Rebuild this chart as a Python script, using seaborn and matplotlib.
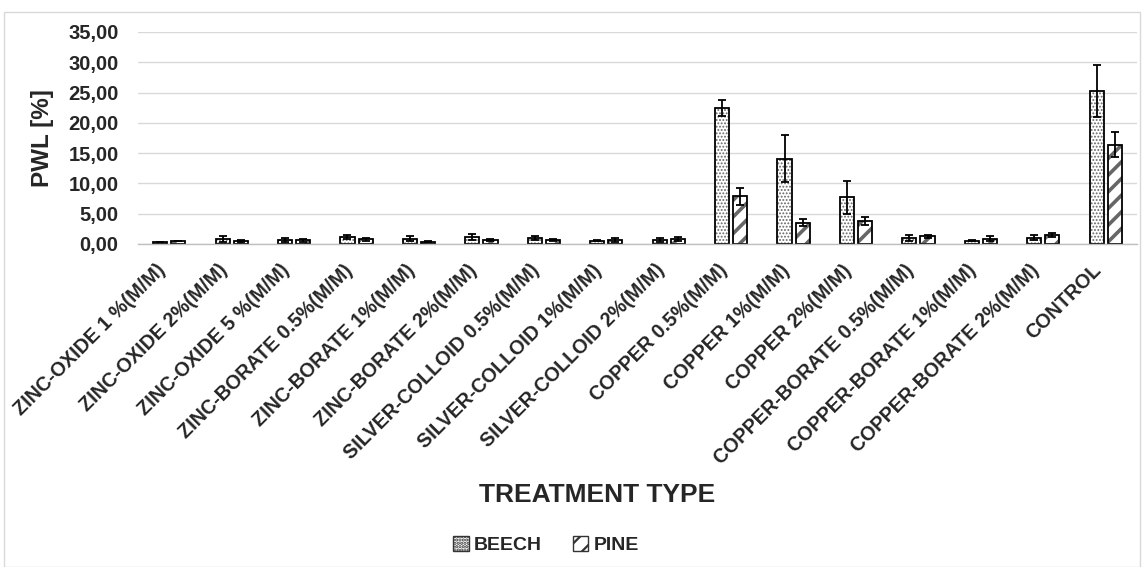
import numpy as np
import pandas as pd
import matplotlib
matplotlib.use("Agg")
import matplotlib.pyplot as plt
import matplotlib.transforms as mtransforms
from matplotlib.patches import Patch, Rectangle
from matplotlib.ticker import FuncFormatter, MultipleLocator
import seaborn as sns

# Treatments along the x axis
treatments = [
    "ZINC-OXIDE 1 %(M/M)", "ZINC-OXIDE 2%(M/M)", "ZINC-OXIDE 5 %(M/M)",
    "ZINC-BORATE 0.5%(M/M)", "ZINC-BORATE 1%(M/M)", "ZINC-BORATE 2%(M/M)",
    "SILVER-COLLOID 0.5%(M/M)", "SILVER-COLLOID 1%(M/M)", "SILVER-COLLOID 2%(M/M)",
    "COPPER 0.5%(M/M)", "COPPER 1%(M/M)", "COPPER 2%(M/M)",
    "COPPER-BORATE 0.5%(M/M)", "COPPER-BORATE 1%(M/M)", "COPPER-BORATE 2%(M/M)",
    "CONTROL",
]

# Percentage weight loss (mean) and standard deviation for each wood species
beech_mean = [0.30, 0.85, 0.65, 1.15, 0.90, 1.20, 1.00, 0.55, 0.70, 22.50, 14.10, 7.70, 0.95, 0.55, 1.05, 25.20]
beech_sd = [0.05, 0.50, 0.40, 0.30, 0.40, 0.50, 0.40, 0.10, 0.30, 1.30, 3.90, 2.70, 0.50, 0.10, 0.45, 4.30]
pine_mean = [0.50, 0.50, 0.60, 0.75, 0.40, 0.70, 0.70, 0.70, 0.85, 7.90, 3.50, 3.80, 1.25, 0.90, 1.45, 16.40]
pine_sd = [0.05, 0.10, 0.20, 0.30, 0.10, 0.20, 0.20, 0.30, 0.30, 1.40, 0.60, 0.60, 0.25, 0.40, 0.30, 2.10]

species = ["BEECH", "PINE"]
hatches = {"BEECH": ".....", "PINE": "//"}
hatch_lw = {"BEECH": 0.9, "PINE": 2.6}
hatch_col = "#666666"

df = pd.DataFrame({
    "treatment": treatments * 2,
    "species": ["BEECH"] * len(treatments) + ["PINE"] * len(treatments),
    "pwl": beech_mean + pine_mean,
    "sd": beech_sd + pine_sd,
})

sns.set_theme(style="white")
plt.rcParams["font.family"] = ["Liberation Sans", "DejaVu Sans"]
plt.rcParams["hatch.linewidth"] = 1.6

fig = plt.figure(figsize=(11.44, 5.67), dpi=100)
ax = fig.add_axes([138 / 1144, 1 - 244 / 567, (1137 - 138) / 1144, (244 - 32) / 567])

bar_kw = dict(data=df, x="treatment", y="pwl", hue="species", order=treatments,
              hue_order=species, errorbar=None, width=0.58, gap=0.22,
              legend=False, ax=ax)

# Hatched fill (grey pattern) ...
sns.barplot(palette={"BEECH": "white", "PINE": "white"}, linewidth=0, **bar_kw)
for container, sp in zip(ax.containers, species):
    for bar in container:
        bar.set_edgecolor(hatch_col)
        bar.set_linewidth(0)
        bar.set_hatch(hatches[sp])
        if hasattr(bar, "set_hatch_linewidth"):
            bar.set_hatch_linewidth(hatch_lw[sp])
n_fill = len(ax.containers)

# ... and black outlines on top
sns.barplot(palette={"BEECH": "black", "PINE": "black"}, fill=False,
            linewidth=1.3, **bar_kw)

# Error bars (standard deviation)
for container, sp in zip(ax.containers[n_fill:], species):
    sub = df[df["species"] == sp].set_index("treatment").loc[treatments]
    xs = [bar.get_x() + bar.get_width() / 2 for bar in container]
    ax.errorbar(xs, sub["pwl"].values, yerr=sub["sd"].values, fmt="none",
                ecolor="black", elinewidth=1.3, capsize=3, capthick=1.3, zorder=5)

ax.set_ylim(0, 35)
ax.yaxis.set_major_locator(MultipleLocator(5))
ax.yaxis.set_major_formatter(FuncFormatter(lambda v, p: f"{v:.2f}".replace(".", ",")))
ax.grid(axis="y", color="#d9d9d9", linewidth=1.0)
ax.set_axisbelow(True)
for side in ("left", "right", "top"):
    ax.spines[side].set_visible(False)
ax.spines["bottom"].set_color("#bfbfbf")
ax.spines["bottom"].set_linewidth(1.0)
ax.set_xlim(-0.5, len(treatments) - 0.5)

ax.tick_params(axis="y", length=0, pad=14, labelsize=14.5)
ax.tick_params(axis="x", length=0, pad=6)
for lab in ax.get_yticklabels():
    lab.set_fontweight("bold")
ax.set_xticks(range(len(treatments)))
ax.set_xticklabels(treatments, rotation=45, ha="right", rotation_mode="anchor",
                   fontweight="bold", fontsize=14.2)
shift = mtransforms.ScaledTranslation(-10 / 72, -6 / 72, fig.dpi_scale_trans)
for lab in ax.get_xticklabels():
    lab.set_transform(lab.get_transform() + shift)

ax.set_ylabel("PWL [%]", fontsize=17.5, fontweight="bold", labelpad=10)
ax.set_xlabel("")
fig.text(597 / 1144, 1 - 495 / 567, "TREATMENT TYPE", ha="center", va="center",
         fontsize=19, fontweight="bold")

handles = [Patch(facecolor="white", edgecolor="#333333", hatch=hatches[s], label=s)
           for s in species]
fig.legend(handles=handles, loc="center", bbox_to_anchor=(546 / 1144, 1 - 545 / 567),
           ncol=2, frameon=False, prop={"weight": "bold", "size": 14},
           handlelength=0.8, handleheight=0.8, handletextpad=0.25, columnspacing=1.6)

fig.add_artist(Rectangle((4 / 1144, 0.0), (1140 - 4) / 1144, 1 - 12 / 567,
                         transform=fig.transFigure, fill=False,
                         edgecolor="#d9d9d9", linewidth=1.0))

fig.savefig("out.png", dpi=100, facecolor="white")
